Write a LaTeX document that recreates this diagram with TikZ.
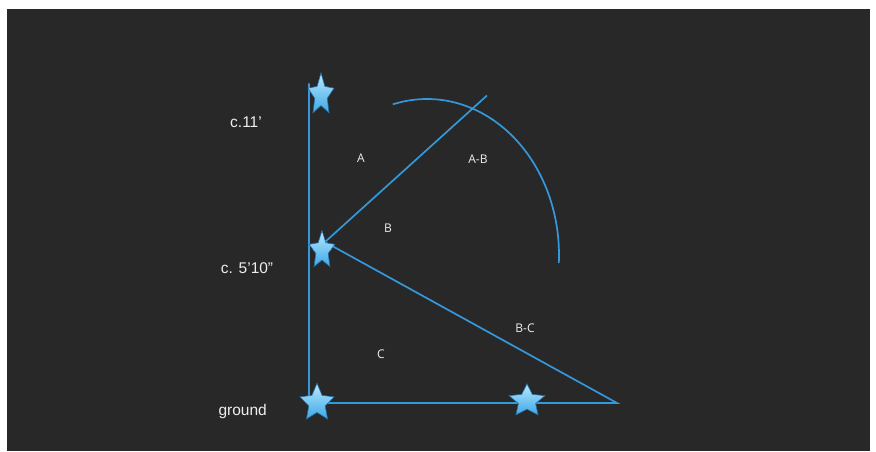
\documentclass[tikz,border=0pt]{standalone}
\usepackage{fontspec}
\setmainfont{Liberation Sans}
\newfontfamily\labfont{Open Sans}
\definecolor{bgdark}{RGB}{40,40,40}
\definecolor{lineblue}{RGB}{52,152,219}
\definecolor{starlight}{RGB}{185,232,252}
\definecolor{starblue}{RGB}{60,168,232}
\definecolor{stardark}{RGB}{35,110,165}
\definecolor{txt}{RGB}{238,238,238}
\tikzset{
  kline/.style={draw=lineblue, line width=1.7pt},
  bigtxt/.style={text=txt, font=\fontsize{15.5}{18}\selectfont, inner sep=0pt},
  smalltxt/.style={text=txt, font=\labfont\fontsize{12}{14}\selectfont, inner sep=0pt},
  starpath/.style={top color=starlight, bottom color=starblue, draw=stardark, line width=0.6pt}
}
\def\kir{0.48}
% #1 name, #2 x, #3 y, #4 rx, #5 ry
\newcommand\kstar[5]{%
  \coordinate (#1) at (#2,#3);
  \path[starpath]
    ($(#1)+(0,-#5)$)
    -- ($(#1)+({-\kir*#4*cos(54)},{-\kir*#5*sin(54)})$)
    -- ($(#1)+({-#4*cos(18)},{-#5*sin(18)})$)
    -- ($(#1)+({-\kir*#4*cos(18)},{\kir*#5*sin(18)})$)
    -- ($(#1)+({-#4*cos(54)},{#5*sin(54)})$)
    -- ($(#1)+(0,{\kir*#5})$)
    -- ($(#1)+({#4*cos(54)},{#5*sin(54)})$)
    -- ($(#1)+({\kir*#4*cos(18)},{\kir*#5*sin(18)})$)
    -- ($(#1)+({#4*cos(18)},{-#5*sin(18)})$)
    -- ($(#1)+({\kir*#4*cos(54)},{-\kir*#5*sin(54)})$)
    -- cycle;
}
\usetikzlibrary{calc}
\begin{document}
\begin{tikzpicture}[x=1pt, y=-1pt]
\useasboundingbox (0,0) rectangle (876,452);
\fill[white] (0,0) rectangle (876,452);
\fill[bgdark] (7,9) rectangle (870,451);
% coordinates
\coordinate (vtop) at (309,83.5);
\coordinate (vbot) at (309,403);
\coordinate (apex) at (325,242);
\coordinate (aend) at (487,95.5);
\coordinate (gend) at (617,403);
% lines
\draw[kline] (vtop) -- (vbot) -- (gend) -- (apex) -- (aend);
\draw[kline] plot[domain=105:-3, samples=80, smooth] ({427+132*cos(\x)}, {255-156*sin(\x)});
% stars
\kstar{s1}{321}{95}{13.7}{22.1}
\kstar{s2}{322}{250.5}{13.5}{19.9}
\kstar{s3}{317}{403}{17.9}{19.7}
\kstar{s4}{527}{401}{18.8}{17.1}
% labels
\node[bigtxt, anchor=base west] (l11) at (230,127.3) {c.11’};
\node[bigtxt, anchor=base west] (l510) at (220.7,273.3) {c. 5’10”};
\node[bigtxt, anchor=base west] (lg) at (218.3,415) {ground};
\node[smalltxt] (la) at (361,158) {A};
\node[smalltxt] (lab) at (478,159) {A-B};
\node[smalltxt] (lb) at (388,228) {B};
\node[smalltxt] (lc) at (381,354) {C};
\node[smalltxt] (lbc) at (525,328) {B-C};
\end{tikzpicture}
\end{document}
